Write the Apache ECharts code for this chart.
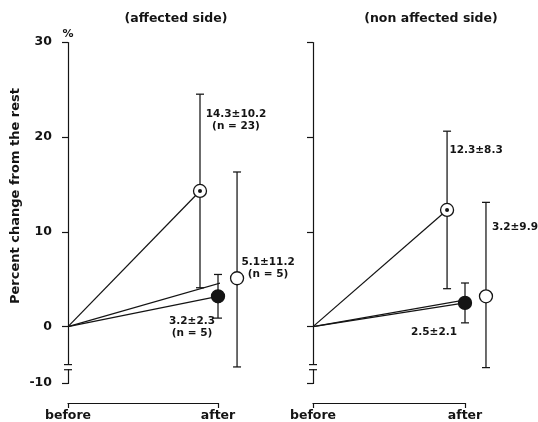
<!DOCTYPE html>
<html>
<head>
<meta charset="utf-8">
<script src="https://cdn.jsdelivr.net/npm/echarts@6/dist/echarts.min.js"></script>
<style>
  html, body { margin: 0; padding: 0; background: #fff; }
  #chart { width: 538px; height: 422px; }
</style>
</head>
<body>
<div id="chart"></div>
<script>
// Phases on the horizontal axis
const phases = ['before', 'after'];
const panelTitles = ['(affected side)', '(non affected side)'];

// Group order in each panel: dotted circle, filled circle, open circle
const affectedMean = [14.3, 3.2, 5.1];
const affectedSD = [10.2, 2.3, 11.2];
const affectedN = [23, 5, 5];
const nonAffectedMean = [12.3, 2.5, 3.2];
const nonAffectedSD = [8.3, 2.1, 9.9];

// Vertical axis ticks (percent)
const yTicks = [-10, 0, 10, 20, 30];

// ---- layout / styling ----
const INK = '#141414';
const FONT = '"DejaVu Sans", "Liberation Sans", sans-serif';
const axisBreak = { start: -8.6, end: -4, gap: '1.5%' };
// horizontal spread of the three "after" markers, in axis units
const groupShift = [[-0.12, 0, 0.127], [-0.118, 0, 0.138]];
// value label anchor relative to its marker, in pixels
const labelOffset = [
  [[36, -71], [-26, 31], [31, -10]],
  [[29, -60], [-31, 29], [29, -69]]
];

const panels = [
  { mean: affectedMean, sd: affectedSD, n: affectedN },
  { mean: nonAffectedMean, sd: nonAffectedSD, n: [null, null, null] }
];

function groupRows(p) {
  const P = panels[p];
  return P.mean.map((m, g) => [1 + groupShift[p][g], m, P.sd[g], g, P.n[g] == null ? -1 : P.n[g]]);
}

function makeErrorRender(p) {
  return function (params, api) {
    const x = api.value(0), m = api.value(1), sd = api.value(2);
    const g = api.value(3), n = api.value(4);
    const c = api.coord([x, m]);
    const hi = api.coord([x, m + sd]);
    const lo = api.coord([x, m - sd]);
    const cap = 4;
    const ls = { stroke: INK, lineWidth: 1.25 };
    const kids = [
      { type: 'line', shape: { x1: c[0], y1: hi[1], x2: c[0], y2: lo[1] }, style: ls },
      { type: 'line', shape: { x1: c[0] - cap, y1: hi[1], x2: c[0] + cap, y2: hi[1] }, style: ls },
      { type: 'line', shape: { x1: c[0] - cap, y1: lo[1], x2: c[0] + cap, y2: lo[1] }, style: ls },
      { type: 'circle', shape: { cx: c[0], cy: c[1], r: 6.5 },
        style: { fill: g === 1 ? INK : '#fff', stroke: INK, lineWidth: 1.3 } }
    ];
    if (g === 0) {
      kids.push({ type: 'circle', shape: { cx: c[0], cy: c[1], r: 2 }, style: { fill: INK } });
    }
    let txt = m.toFixed(1) + '±' + sd.toFixed(1);
    if (n > 0) txt += '\n(n = ' + n + ')';
    const off = labelOffset[p][g];
    kids.push({
      type: 'text', x: c[0] + off[0], y: c[1] + off[1],
      style: { text: txt, align: 'center', verticalAlign: 'middle', fill: INK,
               fontFamily: FONT, fontWeight: 'bold', fontSize: 10.5, lineHeight: 12 }
    });
    return { type: 'group', children: kids };
  };
}

// "=" symbol drawn across the axis line where the scale is interrupted
function breakMarkRender(params, api) {
  const top = api.coord([0, axisBreak.end]);
  const bot = api.coord([0, axisBreak.start]);
  const w = 4;
  const ls = { stroke: INK, lineWidth: 1.2 };
  return {
    type: 'group', children: [
      { type: 'line', shape: { x1: top[0] - w, y1: top[1], x2: top[0] + w, y2: top[1] }, style: ls },
      { type: 'line', shape: { x1: bot[0] - w, y1: bot[1], x2: bot[0] + w, y2: bot[1] }, style: ls }
    ]
  };
}

const grids = [
  { left: 68, top: 42, width: 150, height: 341 },
  { left: 313, top: 42, width: 152, height: 341 }
];

const xAxes = [0, 1].map(i => ({
  type: 'value', gridIndex: i, min: 0, max: 1, offset: 20,
  axisLine: { show: true, onZero: false, lineStyle: { color: INK, width: 1.2 } },
  axisTick: { show: true, customValues: [0, 1], length: 5, lineStyle: { color: INK, width: 1.2 } },
  axisLabel: { show: true, customValues: [0, 1], formatter: v => phases[v], margin: 6,
               color: INK, fontFamily: FONT, fontWeight: 'bold', fontSize: 12.5 },
  splitLine: { show: false }
}));

const yAxes = [0, 1].map(i => ({
  type: 'value', gridIndex: i, min: -10, max: 30,
  breaks: [axisBreak],
  breakArea: { show: false },
  name: i === 0 ? '%' : '', nameLocation: 'end', nameGap: 2,
  nameTextStyle: { color: INK, fontFamily: FONT, fontWeight: 'bold', fontSize: 11 },
  axisLine: { show: true, onZero: false, lineStyle: { color: INK, width: 1.2 } },
  axisTick: { show: true, customValues: yTicks, length: 6, lineStyle: { color: INK, width: 1.2 } },
  axisLabel: { show: i === 0, customValues: yTicks, margin: 16,
               color: INK, fontFamily: FONT, fontWeight: 'bold', fontSize: 12.5 },
  splitLine: { show: false }
}));

const series = [];
[0, 1].forEach(p => {
  const rows = groupRows(p);
  // connecting lines from the common origin
  rows.forEach(r => {
    series.push({
      type: 'line', xAxisIndex: p, yAxisIndex: p, clip: false, silent: true,
      data: [[0, 0], [r[0], r[1]]], symbol: 'none',
      lineStyle: { color: INK, width: 1.25 }, z: 2
    });
  });
  series.push({
    type: 'custom', xAxisIndex: p, yAxisIndex: p, clip: false, silent: true,
    data: rows, renderItem: makeErrorRender(p), z: 3
  });
  series.push({
    type: 'custom', xAxisIndex: p, yAxisIndex: p, clip: false, silent: true,
    data: [[0, 0]], renderItem: breakMarkRender, z: 4
  });
});

const chart = echarts.init(document.getElementById('chart'), null, { renderer: 'canvas' });
chart.setOption({
  animation: false,
  backgroundColor: '#fff',
  title: panelTitles.map((t, i) => ({
    text: t, left: i === 0 ? 176 : 431, top: 12, textAlign: 'center', padding: 0,
    textStyle: { color: INK, fontFamily: FONT, fontWeight: 'bold', fontSize: 12.5 }
  })),
  graphic: [{
    type: 'text', x: 16, y: 196, rotation: Math.PI / 2,
    style: { text: 'Percent change from the rest', align: 'center', verticalAlign: 'middle',
             fill: INK, fontFamily: FONT, fontWeight: 'bold', fontSize: 13 }
  }],
  grid: grids,
  xAxis: xAxes,
  yAxis: yAxes,
  series: series
});
</script>
</body>
</html>
